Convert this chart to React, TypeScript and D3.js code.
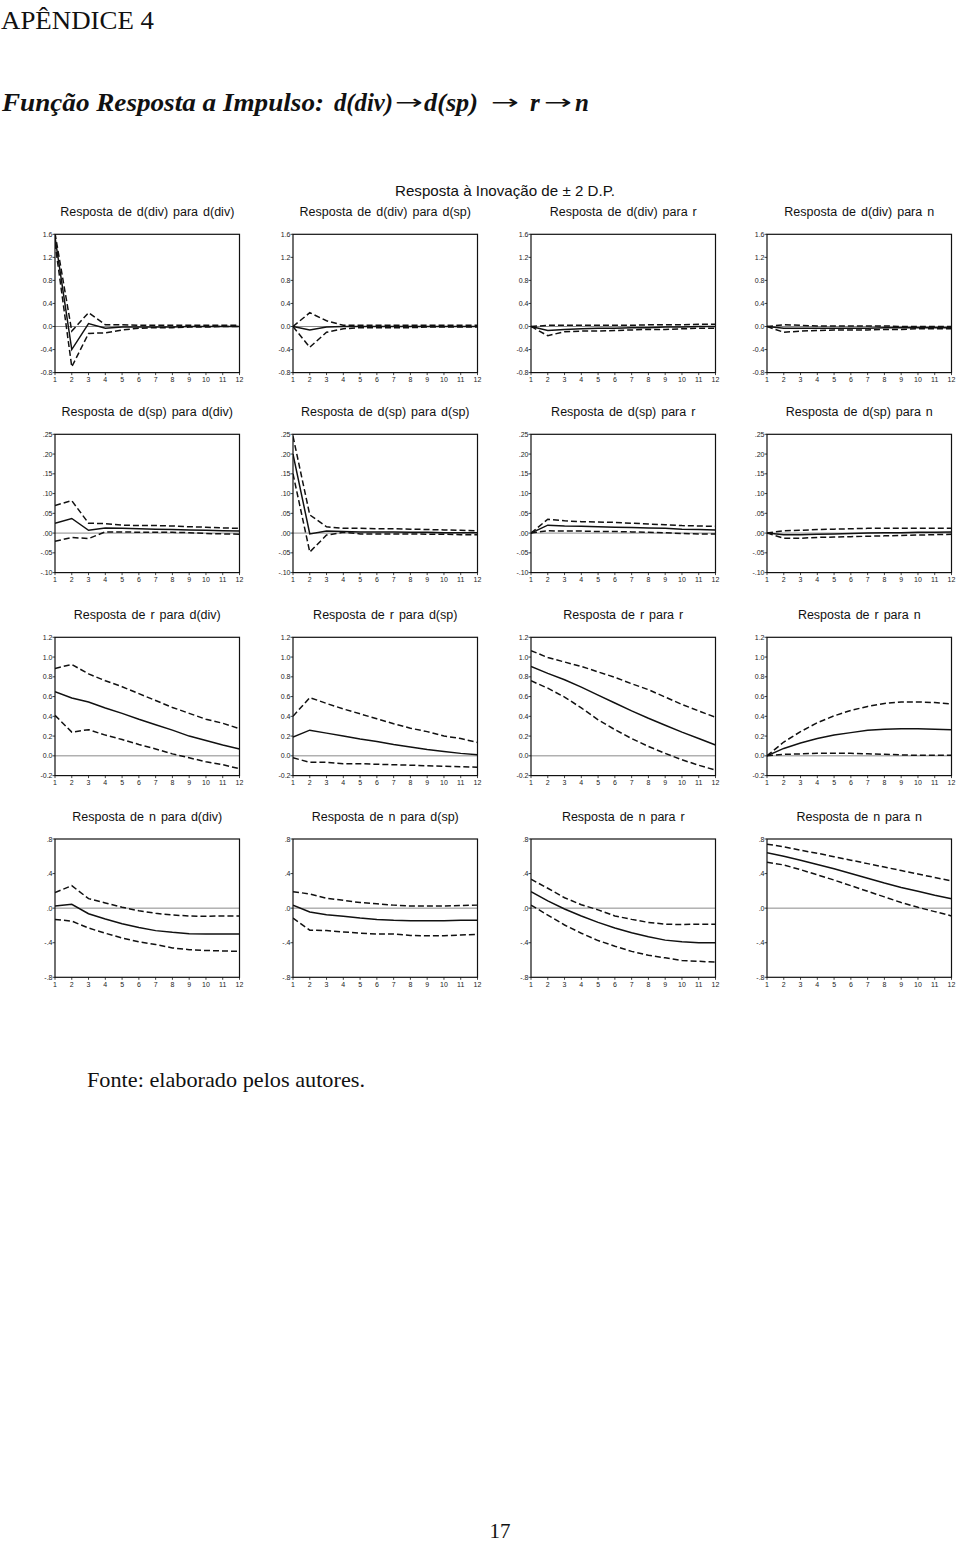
import React from "react";
import * as d3 from "d3";

// Horizons
const periods = [1, 2, 3, 4, 5, 6, 7, 8, 9, 10, 11, 12];
const shocks = ["d(div)", "d(sp)", "r", "n"];
const responders = ["d(div)", "d(sp)", "r", "n"];

// Y tick labels for each row
const row1Ticks = [1.6, 1.2, 0.8, 0.4, 0.0, -0.4, -0.8];
const row1Labels = ["1.6", "1.2", "0.8", "0.4", "0.0", "-0.4", "-0.8"];
const row2Ticks = [0.25, 0.2, 0.15, 0.1, 0.05, 0.0, -0.05, -0.1];
const row2Labels = [".25", ".20", ".15", ".10", ".05", ".00", "-.05", "-.10"];
const row3Ticks = [1.2, 1.0, 0.8, 0.6, 0.4, 0.2, 0.0, -0.2];
const row3Labels = ["1.2", "1.0", "0.8", "0.6", "0.4", "0.2", "0.0", "-0.2"];
const row4Ticks = [0.8, 0.4, 0.0, -0.4, -0.8];
const row4Labels = [".8", ".4", ".0", "-.4", "-.8"];

// Response of d(div)
const divDivMid = [1.55, -0.4, 0.05, -0.03, -0.01, -0.01, -0.01, -0.01, 0.0, 0.0, 0.0, 0.0];
const divDivUp = [1.62, -0.08, 0.24, 0.03, 0.03, 0.02, 0.02, 0.02, 0.02, 0.02, 0.02, 0.02];
const divDivLo = [1.45, -0.7, -0.12, -0.11, -0.06, -0.03, -0.02, -0.02, -0.01, -0.01, 0.0, 0.0];
const divSpMid = [0.0, -0.06, -0.01, 0.0, 0.0, 0.0, 0.0, 0.0, 0.0, 0.0, 0.0, 0.0];
const divSpUp = [0.0, 0.24, 0.1, 0.02, 0.02, 0.02, 0.02, 0.02, 0.02, 0.02, 0.02, 0.02];
const divSpLo = [0.0, -0.36, -0.1, -0.04, -0.02, -0.02, -0.02, -0.02, -0.01, -0.01, -0.01, -0.01];
const divRMid = [0.0, -0.07, -0.05, -0.04, -0.03, -0.03, -0.02, -0.02, -0.01, -0.01, 0.0, 0.0];
const divRUp = [0.0, 0.02, 0.02, 0.02, 0.02, 0.02, 0.02, 0.03, 0.03, 0.03, 0.04, 0.04];
const divRLo = [0.0, -0.16, -0.09, -0.08, -0.08, -0.07, -0.06, -0.05, -0.05, -0.04, -0.03, -0.03];
const divNMid = [0.0, -0.03, -0.03, -0.03, -0.03, -0.03, -0.03, -0.02, -0.02, -0.02, -0.02, -0.02];
const divNUp = [0.0, 0.03, 0.02, 0.01, 0.01, 0.01, 0.01, 0.01, 0.0, 0.0, 0.0, 0.0];
const divNLo = [0.0, -0.1, -0.08, -0.07, -0.06, -0.06, -0.06, -0.05, -0.05, -0.04, -0.04, -0.04];

// Response of d(sp)
const spDivMid = [0.025, 0.037, 0.007, 0.013, 0.012, 0.011, 0.01, 0.009, 0.008, 0.007, 0.006, 0.005];
const spDivUp = [0.07, 0.082, 0.025, 0.024, 0.02, 0.019, 0.019, 0.018, 0.016, 0.015, 0.013, 0.012];
const spDivLo = [-0.021, -0.011, -0.014, 0.003, 0.003, 0.002, 0.002, 0.002, 0.001, -0.001, -0.002, -0.003];
const spSpMid = [0.2, -0.002, 0.005, 0.004, 0.003, 0.003, 0.003, 0.002, 0.002, 0.001, 0.001, 0.001];
const spSpUp = [0.245, 0.046, 0.016, 0.012, 0.012, 0.011, 0.011, 0.01, 0.009, 0.008, 0.007, 0.006];
const spSpLo = [0.15, -0.048, -0.005, 0.002, -0.002, -0.002, -0.002, -0.002, -0.003, -0.003, -0.004, -0.004];
const spRMid = [0.0, 0.02, 0.018, 0.017, 0.016, 0.015, 0.014, 0.013, 0.012, 0.01, 0.009, 0.008];
const spRUp = [0.0, 0.035, 0.031, 0.029, 0.028, 0.027, 0.025, 0.023, 0.021, 0.019, 0.018, 0.017];
const spRLo = [0.0, 0.006, 0.005, 0.005, 0.004, 0.004, 0.003, 0.002, 0.001, -0.001, -0.002, -0.002];
const spNMid = [0.0, -0.004, -0.004, -0.003, -0.002, -0.001, 0.0, 0.001, 0.001, 0.002, 0.002, 0.003];
const spNUp = [0.0, 0.006, 0.007, 0.009, 0.01, 0.011, 0.012, 0.012, 0.012, 0.012, 0.012, 0.012];
const spNLo = [0.0, -0.013, -0.013, -0.011, -0.01, -0.009, -0.008, -0.007, -0.006, -0.005, -0.004, -0.003];

// Response of r
const rDivMid = [0.65, 0.585, 0.545, 0.485, 0.43, 0.37, 0.315, 0.26, 0.2, 0.155, 0.11, 0.07];
const rDivUp = [0.885, 0.925, 0.83, 0.76, 0.7, 0.63, 0.56, 0.49, 0.43, 0.37, 0.33, 0.275];
const rDivLo = [0.41, 0.24, 0.265, 0.21, 0.165, 0.115, 0.07, 0.02, -0.02, -0.06, -0.09, -0.13];
const rSpMid = [0.19, 0.26, 0.23, 0.2, 0.17, 0.145, 0.115, 0.09, 0.065, 0.045, 0.025, 0.01];
const rSpUp = [0.4, 0.59, 0.53, 0.475, 0.425, 0.375, 0.325, 0.28, 0.245, 0.2, 0.175, 0.135];
const rSpLo = [-0.02, -0.065, -0.065, -0.08, -0.08, -0.085, -0.09, -0.095, -0.1, -0.105, -0.11, -0.115];
const rRMid = [0.905, 0.835, 0.77, 0.695, 0.615, 0.535, 0.455, 0.38, 0.31, 0.24, 0.175, 0.11];
const rRUp = [1.065, 0.995, 0.95, 0.905, 0.85, 0.795, 0.73, 0.67, 0.595, 0.52, 0.455, 0.39];
const rRLo = [0.76, 0.685, 0.595, 0.485, 0.365, 0.265, 0.175, 0.095, 0.025, -0.04, -0.095, -0.145];
const rNMid = [0.0, 0.075, 0.13, 0.175, 0.21, 0.235, 0.26, 0.27, 0.275, 0.275, 0.27, 0.265];
const rNUp = [0.0, 0.14, 0.245, 0.335, 0.405, 0.46, 0.5, 0.53, 0.545, 0.545, 0.54, 0.525];
const rNLo = [0.0, 0.015, 0.02, 0.025, 0.025, 0.025, 0.02, 0.015, 0.01, 0.005, 0.005, 0.005];

// Response of n
const nDivMid = [0.025, 0.045, -0.065, -0.125, -0.18, -0.225, -0.26, -0.28, -0.295, -0.3, -0.3, -0.3];
const nDivUp = [0.18, 0.26, 0.11, 0.06, 0.01, -0.03, -0.06, -0.08, -0.09, -0.095, -0.09, -0.09];
const nDivLo = [-0.13, -0.15, -0.23, -0.29, -0.345, -0.39, -0.42, -0.46, -0.48, -0.49, -0.495, -0.5];
const nSpMid = [0.035, -0.045, -0.075, -0.095, -0.115, -0.13, -0.14, -0.145, -0.145, -0.145, -0.14, -0.14];
const nSpUp = [0.19, 0.165, 0.115, 0.09, 0.065, 0.05, 0.035, 0.025, 0.025, 0.025, 0.03, 0.035];
const nSpLo = [-0.115, -0.255, -0.26, -0.275, -0.29, -0.3, -0.3, -0.315, -0.32, -0.32, -0.31, -0.305];
const nRMid = [0.19, 0.085, -0.01, -0.09, -0.165, -0.23, -0.285, -0.33, -0.37, -0.39, -0.4, -0.4];
const nRUp = [0.335, 0.23, 0.12, 0.04, -0.02, -0.09, -0.13, -0.165, -0.185, -0.19, -0.185, -0.185];
const nRLo = [0.035, -0.08, -0.195, -0.29, -0.375, -0.44, -0.5, -0.545, -0.575, -0.605, -0.615, -0.625];
const nNMid = [0.64, 0.6, 0.555, 0.505, 0.455, 0.4, 0.345, 0.29, 0.24, 0.195, 0.15, 0.11];
const nNUp = [0.74, 0.71, 0.67, 0.635, 0.595, 0.555, 0.515, 0.475, 0.435, 0.395, 0.355, 0.315];
const nNLo = [0.53, 0.5, 0.445, 0.385, 0.325, 0.26, 0.195, 0.13, 0.065, 0.01, -0.04, -0.09];

const rows = [
  {
    ticks: row1Ticks, labels: row1Labels, domain: [-0.8, 1.6],
    panels: [
      [divDivMid, divDivUp, divDivLo],
      [divSpMid, divSpUp, divSpLo],
      [divRMid, divRUp, divRLo],
      [divNMid, divNUp, divNLo],
    ],
  },
  {
    ticks: row2Ticks, labels: row2Labels, domain: [-0.1, 0.25],
    panels: [
      [spDivMid, spDivUp, spDivLo],
      [spSpMid, spSpUp, spSpLo],
      [spRMid, spRUp, spRLo],
      [spNMid, spNUp, spNLo],
    ],
  },
  {
    ticks: row3Ticks, labels: row3Labels, domain: [-0.2, 1.2],
    panels: [
      [rDivMid, rDivUp, rDivLo],
      [rSpMid, rSpUp, rSpLo],
      [rRMid, rRUp, rRLo],
      [rNMid, rNUp, rNLo],
    ],
  },
  {
    ticks: row4Ticks, labels: row4Labels, domain: [-0.8, 0.8],
    panels: [
      [nDivMid, nDivUp, nDivLo],
      [nSpMid, nSpUp, nSpLo],
      [nRMid, nRUp, nRLo],
      [nNMid, nNUp, nNLo],
    ],
  },
];

const panelLefts = [55, 293, 531, 767];
const panelW = 184.5;
const rowTops = [234.3, 434.3, 637.3, 839];
const panelH = 138.3;

const SERIF = "'Liberation Serif', 'Times New Roman', serif";
const SANS = "Arial, 'Liberation Sans', sans-serif";

function Panel({ x0, y0, row, col, rowIdx }: any) {
  const xs = d3.scaleLinear().domain([1, 12]).range([x0, x0 + panelW]);
  const ys = d3.scaleLinear().domain(row.domain).range([y0 + panelH, y0]);
  const line = d3
    .line<number>()
    .x((_, i) => xs(periods[i]))
    .y((d) => ys(d));
  const [mid, up, lo] = row.panels[col];
  const title = `Resposta de ${responders[rowIdx]} para ${shocks[col]}`;
  return (
    <g>
      <text
        x={x0 + panelW / 2}
        y={y0 - 18}
        textAnchor="middle"
        fontFamily={SANS}
        fontSize={12.5}
        style={{ wordSpacing: "1.5px" }}
        fill="#111"
      >
        {title}
      </text>
      <defs>
        <clipPath id={`clip-${rowIdx}-${col}`}>
          <rect x={x0} y={y0} width={panelW} height={panelH} />
        </clipPath>
      </defs>
      <line x1={x0} x2={x0 + panelW} y1={ys(0)} y2={ys(0)} stroke="#8a8a8a" strokeWidth={1} />
      <g clipPath={`url(#clip-${rowIdx}-${col})`}>
        <path d={line(up) || ""} fill="none" stroke="#111" strokeWidth={1.5} strokeDasharray="6,3" />
        <path d={line(lo) || ""} fill="none" stroke="#111" strokeWidth={1.5} strokeDasharray="6,3" />
        <path d={line(mid) || ""} fill="none" stroke="#111" strokeWidth={1.5} />
      </g>
      <rect x={x0} y={y0} width={panelW} height={panelH} fill="none" stroke="#111" strokeWidth={1.2} />
      {row.ticks.map((t: number, i: number) => (
        <g key={i}>
          <line x1={x0 - 2.5} x2={x0} y1={ys(t)} y2={ys(t)} stroke="#111" strokeWidth={0.8} />
          <text
            x={x0 - 2.5}
            y={ys(t) + 2.5}
            textAnchor="end"
            fontFamily={SANS}
            fontSize={7}
            fill="#222"
          >
            {row.labels[i]}
          </text>
        </g>
      ))}
      {periods.map((p) => (
        <g key={p}>
          <line x1={xs(p)} x2={xs(p)} y1={y0 + panelH} y2={y0 + panelH + 2.5} stroke="#111" strokeWidth={0.8} />
          <text
            x={xs(p)}
            y={y0 + panelH + 9.5}
            textAnchor="middle"
            fontFamily={SANS}
            fontSize={7}
            fill="#222"
          >
            {p}
          </text>
        </g>
      ))}
    </g>
  );
}

export default function App() {
  const tStyle = { fontFamily: SERIF, fontSize: 25, fontWeight: "bold" as const, fontStyle: "italic" as const };
  const arrowStyle = { fontFamily: "'DejaVu Sans', sans-serif", fontSize: 20 };
  return (
    <svg
      width={960}
      height={1544}
      style={{ position: "absolute", left: 0, top: 0, background: "#fff" }}
    >
      <rect x={0} y={0} width={960} height={1544} fill="#fff" />
      <text x={1} y={29} fontFamily={SERIF} fontSize={26} textLength={153} lengthAdjust="spacingAndGlyphs" fill="#111">
        APÊNDICE 4
      </text>
      <g fill="#111">
        <text x={2} y={111} {...tStyle} textLength={322} lengthAdjust="spacingAndGlyphs">Função Resposta a Impulso:</text>
        <text x={334} y={111} {...tStyle} textLength={59} lengthAdjust="spacingAndGlyphs">d(div)</text>
        <text x={395} y={109} {...arrowStyle} textLength={28} lengthAdjust="spacingAndGlyphs">→</text>
        <text x={424} y={111} {...tStyle} textLength={54} lengthAdjust="spacingAndGlyphs">d(sp)</text>
        <text x={491} y={109} {...arrowStyle} textLength={28} lengthAdjust="spacingAndGlyphs">→</text>
        <text x={530} y={111} {...tStyle}>r</text>
        <text x={544} y={109} {...arrowStyle} textLength={28} lengthAdjust="spacingAndGlyphs">→</text>
        <text x={575} y={111} {...tStyle}>n</text>
      </g>
      <text x={395} y={196} fontFamily={SANS} fontSize={15} textLength={220} lengthAdjust="spacingAndGlyphs" fill="#111">
        Resposta à Inovação de ± 2 D.P.
      </text>
      {rows.map((row, ri) =>
        panelLefts.map((x0, ci) => (
          <Panel key={`${ri}-${ci}`} x0={x0} y0={rowTops[ri]} row={row} col={ci} rowIdx={ri} />
        ))
      )}
      <text x={87} y={1087} fontFamily={SERIF} fontSize={21} textLength={278} lengthAdjust="spacingAndGlyphs" fill="#111">
        Fonte: elaborado pelos autores.
      </text>
      <text x={500} y={1538} textAnchor="middle" fontFamily={SERIF} fontSize={21} fill="#111">
        17
      </text>
    </svg>
  );
}
